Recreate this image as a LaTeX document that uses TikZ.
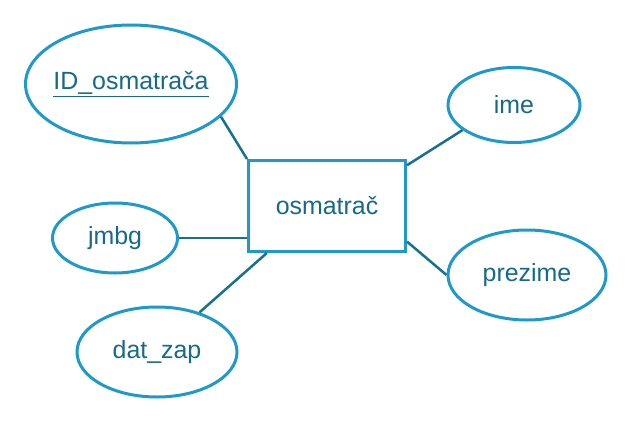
\documentclass[tikz,border=0pt]{standalone}
\usepackage{fontspec}
\setmainfont{Liberation Sans}
\usetikzlibrary{shapes.geometric}

\definecolor{erblue}{RGB}{30,154,202}
\definecolor{erline}{RGB}{23,111,145}
\definecolor{ertext}{RGB}{20,105,140}

\begin{document}
\begin{tikzpicture}[x=1bp, y=1bp,
    every node/.style={
        text=ertext,
        inner sep=0pt,
        font=\fontsize{25}{29}\selectfont},
    attr/.style={
        draw=erblue,
        line width=3bp,
        ellipse},
    entity/.style={
        draw=erblue,
        line width=3bp,
        rectangle,
        minimum width=157bp,
        minimum height=91bp},
    link/.style={draw=erline, line width=2.5bp}]

    \useasboundingbox (0,0) rectangle (630,422);

    \node[entity] (ent) at (327,216) {osmatrač};

    \node[attr, inner xsep=-10bp, minimum width=211bp, minimum height=118bp] (idos) at (131,338) {\underline{ID\_osmatrača}};
    \node[attr, minimum width=132bp, minimum height=75bp] (ime) at (514,317) {ime};
    \node[attr, minimum width=125bp, minimum height=70bp] (jmbg) at (115,184) {jmbg};
    \node[attr, minimum width=158bp, minimum height=90bp] (prez) at (527,147) {prezime};
    \node[attr, minimum width=160bp, minimum height=90bp] (dat) at (157,70) {dat\_zap};

    \draw[link] (idos.-20) -- (ent.north west);
    \draw[link] (ent.27) -- (ime.206);
    \draw[link] (jmbg.east) -- (jmbg.east -| ent.west);
    \draw[link] (ent.-24) -- (prez.west);
    \draw[link] (ent.218) -- (dat.43);
\end{tikzpicture}
\end{document}
